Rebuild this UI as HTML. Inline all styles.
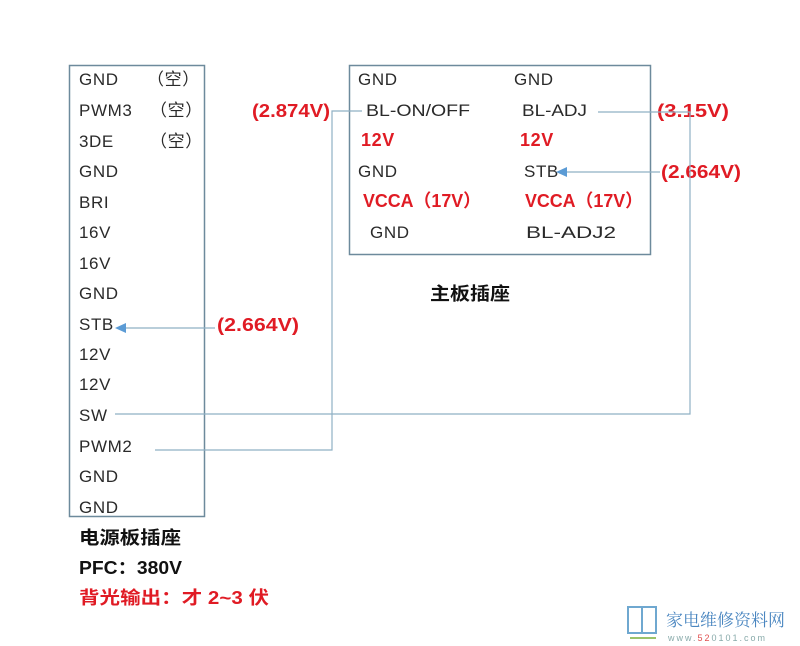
<!DOCTYPE html>
<html><head><meta charset="utf-8"><style>
html,body{margin:0;padding:0;background:#fff}
svg{display:block}
text{font-family:"Liberation Sans","Noto Sans CJK SC",sans-serif;font-size:17px;fill:#2a2a2a;letter-spacing:0.6px}
text[textLength]{letter-spacing:0}
.r{fill:#e01b24;font-weight:bold;font-size:18px}
.b{font-weight:bold;fill:#111;font-size:18px}
</style></head><body>
<svg width="800" height="646" viewBox="0 0 800 646" xmlns="http://www.w3.org/2000/svg">
<rect x="69.5" y="65.5" width="135" height="451" fill="none" stroke="#6d8a9c" stroke-width="1.5"/>
<rect x="349.5" y="65.5" width="301" height="189" fill="none" stroke="#6d8a9c" stroke-width="1.5"/>
<g>
<text x="79" y="85">GND</text><text x="147" y="85">（空）</text>
<text x="79" y="116">PWM3</text><text x="150" y="116">（空）</text>
<text x="79" y="147">3DE</text><text x="150" y="147">（空）</text>
<text x="79" y="177">GND</text>
<text x="79" y="208">BRI</text>
<text x="79" y="238">16V</text>
<text x="79" y="269">16V</text>
<text x="79" y="299">GND</text>
<text x="79" y="330">STB</text>
<text x="79" y="360">12V</text>
<text x="79" y="390">12V</text>
<text x="79" y="421">SW</text>
<text x="79" y="452">PWM2</text>
<text x="79" y="482">GND</text>
<text x="79" y="513">GND</text>
</g>
<g>
<text x="358" y="85">GND</text><text x="514" y="85">GND</text>
<text x="366" y="116" textLength="104" lengthAdjust="spacingAndGlyphs">BL-ON/OFF</text><text x="522" y="116" textLength="65" lengthAdjust="spacingAndGlyphs">BL-ADJ</text>
<text class="r" x="361" y="146">12V</text><text class="r" x="520" y="146">12V</text>
<text x="358" y="177">GND</text><text x="524" y="177">STB</text>
<text class="r" x="363" y="207" textLength="118" lengthAdjust="spacingAndGlyphs">VCCA（17V）</text><text class="r" x="525" y="207" textLength="118" lengthAdjust="spacingAndGlyphs">VCCA（17V）</text>
<text x="370" y="238">GND</text><text x="526" y="238" textLength="90" lengthAdjust="spacingAndGlyphs">BL-ADJ2</text>
</g>
<text class="r" x="252" y="117" textLength="78" lengthAdjust="spacingAndGlyphs">(2.874V)</text>
<text class="r" x="657" y="117" textLength="72" lengthAdjust="spacingAndGlyphs">(3.15V)</text>
<text class="r" x="661" y="178" textLength="80" lengthAdjust="spacingAndGlyphs">(2.664V)</text>
<text class="r" x="217" y="331" textLength="82" lengthAdjust="spacingAndGlyphs">(2.664V)</text>
<text class="b" x="430" y="300" textLength="80" lengthAdjust="spacingAndGlyphs">主板插座</text>
<text class="b" x="79" y="544" textLength="102" lengthAdjust="spacingAndGlyphs">电源板插座</text>
<text class="b" x="79" y="574" textLength="103" lengthAdjust="spacingAndGlyphs">PFC：380V</text>
<text class="r" x="79" y="604" textLength="190" lengthAdjust="spacingAndGlyphs">背光输出：才 2~3 伏</text>
<g stroke="#8fb0c4" stroke-width="1.2" fill="none">
<polyline points="362,111 332,111 332,450 155,450"/>
<polyline points="598,112 690,112 690,414 115,414"/>
<line x1="660" y1="172" x2="566" y2="172"/>
<line x1="215" y1="328" x2="125" y2="328"/>
</g>
<polygon points="556,172 567,167 567,177" fill="#5b9bd5"/>
<polygon points="115,328 126,323 126,333" fill="#5b9bd5"/>
<g stroke="#6fa8d0" stroke-width="2" fill="none">
<path d="M628 607 h14 v26 h-14 z M642 607 h14 v26 h-14 z"/>
</g>
<line x1="630" y1="638" x2="656" y2="638" stroke="#9bc36b" stroke-width="2"/>
<text x="666" y="626" style="font-size:17px;fill:#4a86c0;font-family:'Noto Serif CJK SC',serif;letter-spacing:0">家电维修资料网</text>
<text x="668" y="641" style="font-size:9px;fill:#8aa;letter-spacing:2px">www.<tspan style="fill:#e05050">52</tspan>0101.com</text>
</svg>
</body></html>
